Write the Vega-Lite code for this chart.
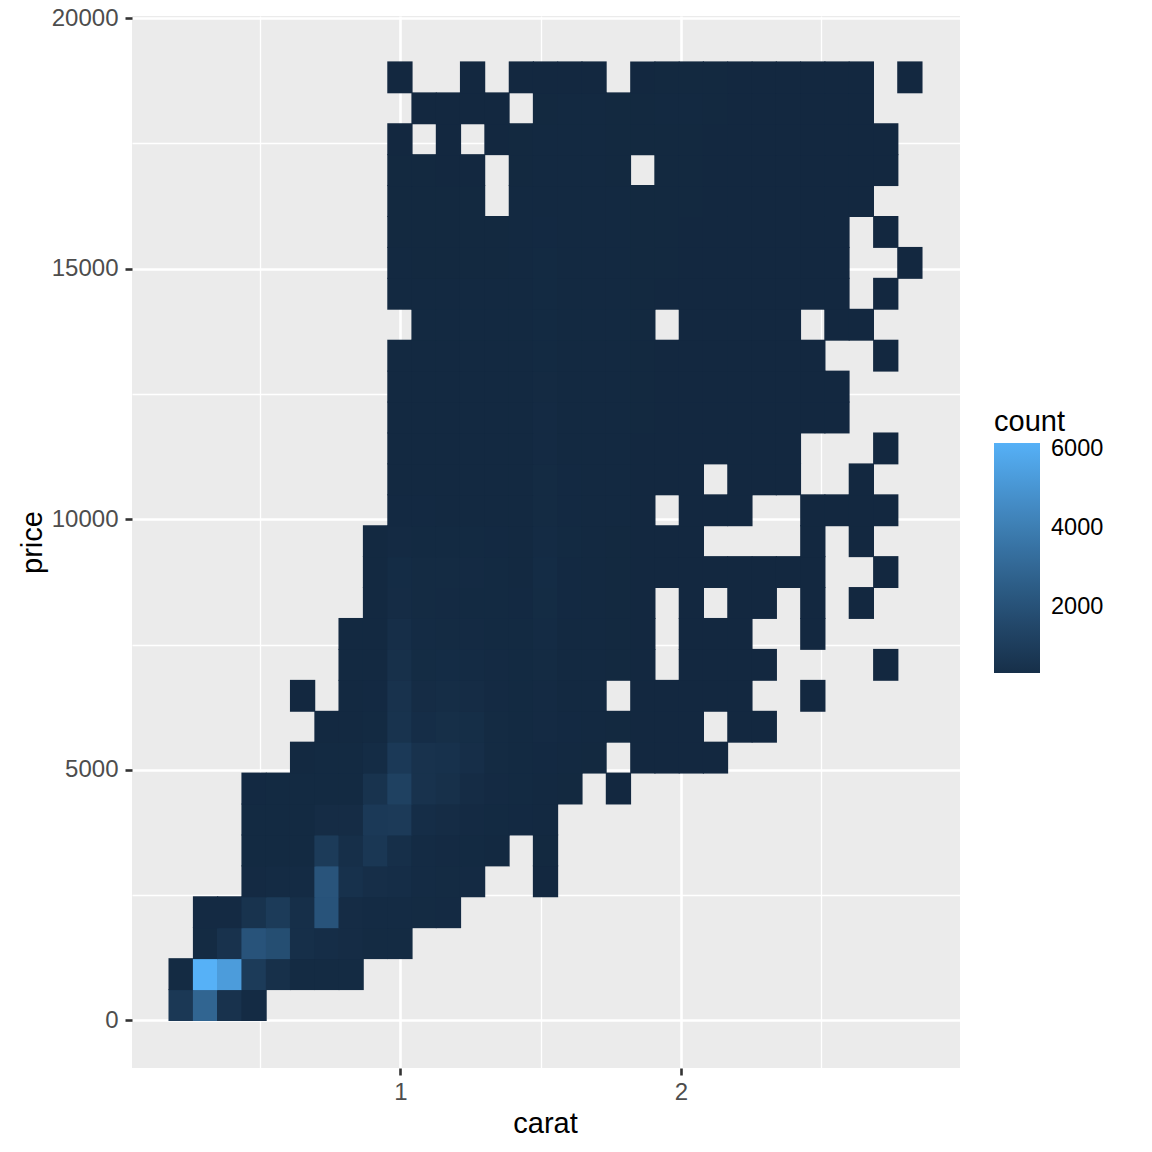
{"$schema":"https://vega.github.io/schema/vega-lite/v6.json","width":828,"height":1052,"autosize":{"type":"none"},"padding":{"left":132,"top":16,"right":192,"bottom":84},"background":"white","view":{"fill":"#EBEBEB","stroke":null},
"data":{"values":[
{"carat":0.218,"price":308,"count":800},{"carat":0.305,"price":308,"count":2900},{"carat":0.391,"price":308,"count":500},{"carat":0.478,"price":308,"count":150},
{"carat":0.218,"price":925,"count":120},{"carat":0.305,"price":925,"count":6150},{"carat":0.391,"price":925,"count":5300},{"carat":0.478,"price":925,"count":950},{"carat":0.565,"price":925,"count":400},{"carat":0.651,"price":925,"count":130},{"carat":0.738,"price":925,"count":130},{"carat":0.824,"price":925,"count":130},
{"carat":0.305,"price":1543,"count":130},{"carat":0.391,"price":1543,"count":500},{"carat":0.478,"price":1543,"count":2100},{"carat":0.565,"price":1543,"count":1850},{"carat":0.651,"price":1543,"count":350},{"carat":0.738,"price":1543,"count":250},{"carat":0.824,"price":1543,"count":200},{"carat":0.911,"price":1543,"count":120},{"carat":0.998,"price":1543,"count":120},
{"carat":0.305,"price":2160,"count":100},{"carat":0.391,"price":2160,"count":100},{"carat":0.478,"price":2160,"count":550},{"carat":0.565,"price":2160,"count":950},{"carat":0.651,"price":2160,"count":350},{"carat":0.738,"price":2160,"count":2100},{"carat":0.824,"price":2160,"count":200},{"carat":0.911,"price":2160,"count":150},{"carat":0.998,"price":2160,"count":150},{"carat":1.084,"price":2160,"count":120},{"carat":1.171,"price":2160,"count":100},
{"carat":0.478,"price":2777,"count":100},{"carat":0.565,"price":2777,"count":150},{"carat":0.651,"price":2777,"count":150},{"carat":0.738,"price":2777,"count":2150},{"carat":0.824,"price":2777,"count":450},{"carat":0.911,"price":2777,"count":300},{"carat":0.998,"price":2777,"count":250},{"carat":1.084,"price":2777,"count":150},{"carat":1.171,"price":2777,"count":120},{"carat":1.257,"price":2777,"count":100},{"carat":1.517,"price":2777,"count":5},
{"carat":0.478,"price":3393,"count":90},{"carat":0.565,"price":3393,"count":90},{"carat":0.651,"price":3393,"count":90},{"carat":0.738,"price":3393,"count":950},{"carat":0.824,"price":3393,"count":350},{"carat":0.911,"price":3393,"count":750},{"carat":0.998,"price":3393,"count":350},{"carat":1.084,"price":3393,"count":150},{"carat":1.171,"price":3393,"count":110},{"carat":1.257,"price":3393,"count":90},{"carat":1.344,"price":3393,"count":50},{"carat":1.517,"price":3393,"count":10},
{"carat":0.478,"price":4010,"count":80},{"carat":0.565,"price":4010,"count":80},{"carat":0.651,"price":4010,"count":80},{"carat":0.738,"price":4010,"count":200},{"carat":0.824,"price":4010,"count":200},{"carat":0.911,"price":4010,"count":850},{"carat":0.998,"price":4010,"count":900},{"carat":1.084,"price":4010,"count":250},{"carat":1.171,"price":4010,"count":200},{"carat":1.257,"price":4010,"count":100},{"carat":1.344,"price":4010,"count":90},{"carat":1.431,"price":4010,"count":60},{"carat":1.517,"price":4010,"count":20},
{"carat":0.478,"price":4628,"count":60},{"carat":0.565,"price":4628,"count":70},{"carat":0.651,"price":4628,"count":70},{"carat":0.738,"price":4628,"count":90},{"carat":0.824,"price":4628,"count":90},{"carat":0.911,"price":4628,"count":550},{"carat":0.998,"price":4628,"count":1250},{"carat":1.084,"price":4628,"count":500},{"carat":1.171,"price":4628,"count":400},{"carat":1.257,"price":4628,"count":200},{"carat":1.344,"price":4628,"count":100},{"carat":1.431,"price":4628,"count":70},{"carat":1.517,"price":4628,"count":40},{"carat":1.604,"price":4628,"count":10},{"carat":1.777,"price":4628,"count":1},
{"carat":0.651,"price":5245,"count":50},{"carat":0.738,"price":5245,"count":70},{"carat":0.824,"price":5245,"count":80},{"carat":0.911,"price":5245,"count":180},{"carat":0.998,"price":5245,"count":850},{"carat":1.084,"price":5245,"count":500},{"carat":1.171,"price":5245,"count":450},{"carat":1.257,"price":5245,"count":300},{"carat":1.344,"price":5245,"count":120},{"carat":1.431,"price":5245,"count":90},{"carat":1.517,"price":5245,"count":60},{"carat":1.604,"price":5245,"count":30},{"carat":1.690,"price":5245,"count":10},{"carat":1.864,"price":5245,"count":2},{"carat":1.950,"price":5245,"count":2},{"carat":2.037,"price":5245,"count":2},{"carat":2.123,"price":5245,"count":1},
{"carat":0.738,"price":5861,"count":40},{"carat":0.824,"price":5861,"count":50},{"carat":0.911,"price":5861,"count":70},{"carat":0.998,"price":5861,"count":550},{"carat":1.084,"price":5861,"count":250},{"carat":1.171,"price":5861,"count":320},{"carat":1.257,"price":5861,"count":280},{"carat":1.344,"price":5861,"count":130},{"carat":1.431,"price":5861,"count":90},{"carat":1.517,"price":5861,"count":100},{"carat":1.604,"price":5861,"count":60},{"carat":1.690,"price":5861,"count":30},{"carat":1.777,"price":5861,"count":15},{"carat":1.864,"price":5861,"count":6},{"carat":1.950,"price":5861,"count":3},{"carat":2.037,"price":5861,"count":2},{"carat":2.210,"price":5861,"count":1},{"carat":2.297,"price":5861,"count":1},
{"carat":0.651,"price":6478,"count":1},{"carat":0.824,"price":6478,"count":40},{"carat":0.911,"price":6478,"count":60},{"carat":0.998,"price":6478,"count":500},{"carat":1.084,"price":6478,"count":200},{"carat":1.171,"price":6478,"count":220},{"carat":1.257,"price":6478,"count":200},{"carat":1.344,"price":6478,"count":110},{"carat":1.431,"price":6478,"count":80},{"carat":1.517,"price":6478,"count":110},{"carat":1.604,"price":6478,"count":50},{"carat":1.690,"price":6478,"count":25},{"carat":1.864,"price":6478,"count":5},{"carat":1.950,"price":6478,"count":3},{"carat":2.037,"price":6478,"count":2},{"carat":2.123,"price":6478,"count":2},{"carat":2.210,"price":6478,"count":1},{"carat":2.470,"price":6478,"count":1},
{"carat":0.824,"price":7096,"count":30},{"carat":0.911,"price":7096,"count":50},{"carat":0.998,"price":7096,"count":400},{"carat":1.084,"price":7096,"count":170},{"carat":1.171,"price":7096,"count":180},{"carat":1.257,"price":7096,"count":160},{"carat":1.344,"price":7096,"count":100},{"carat":1.431,"price":7096,"count":70},{"carat":1.517,"price":7096,"count":130},{"carat":1.604,"price":7096,"count":45},{"carat":1.690,"price":7096,"count":30},{"carat":1.777,"price":7096,"count":15},{"carat":1.864,"price":7096,"count":4},{"carat":2.037,"price":7096,"count":2},{"carat":2.123,"price":7096,"count":2},{"carat":2.210,"price":7096,"count":1},{"carat":2.297,"price":7096,"count":1},{"carat":2.730,"price":7096,"count":1},
{"carat":0.824,"price":7713,"count":25},{"carat":0.911,"price":7713,"count":45},{"carat":0.998,"price":7713,"count":300},{"carat":1.084,"price":7713,"count":150},{"carat":1.171,"price":7713,"count":130},{"carat":1.257,"price":7713,"count":110},{"carat":1.344,"price":7713,"count":90},{"carat":1.431,"price":7713,"count":70},{"carat":1.517,"price":7713,"count":150},{"carat":1.604,"price":7713,"count":50},{"carat":1.690,"price":7713,"count":25},{"carat":1.777,"price":7713,"count":12},{"carat":1.864,"price":7713,"count":4},{"carat":2.037,"price":7713,"count":3},{"carat":2.123,"price":7713,"count":2},{"carat":2.210,"price":7713,"count":1},{"carat":2.470,"price":7713,"count":1},
{"carat":0.911,"price":8330,"count":40},{"carat":0.998,"price":8330,"count":200},{"carat":1.084,"price":8330,"count":130},{"carat":1.171,"price":8330,"count":100},{"carat":1.257,"price":8330,"count":90},{"carat":1.344,"price":8330,"count":70},{"carat":1.431,"price":8330,"count":60},{"carat":1.517,"price":8330,"count":170},{"carat":1.604,"price":8330,"count":60},{"carat":1.690,"price":8330,"count":25},{"carat":1.777,"price":8330,"count":10},{"carat":1.864,"price":8330,"count":4},{"carat":2.037,"price":8330,"count":2},{"carat":2.210,"price":8330,"count":1},{"carat":2.297,"price":8330,"count":1},{"carat":2.470,"price":8330,"count":1},{"carat":2.643,"price":8330,"count":1},
{"carat":0.911,"price":8947,"count":35},{"carat":0.998,"price":8947,"count":190},{"carat":1.084,"price":8947,"count":130},{"carat":1.171,"price":8947,"count":120},{"carat":1.257,"price":8947,"count":110},{"carat":1.344,"price":8947,"count":75},{"carat":1.431,"price":8947,"count":55},{"carat":1.517,"price":8947,"count":180},{"carat":1.604,"price":8947,"count":60},{"carat":1.690,"price":8947,"count":30},{"carat":1.777,"price":8947,"count":15},{"carat":1.864,"price":8947,"count":5},{"carat":1.950,"price":8947,"count":3},{"carat":2.037,"price":8947,"count":3},{"carat":2.123,"price":8947,"count":2},{"carat":2.210,"price":8947,"count":1},{"carat":2.297,"price":8947,"count":1},{"carat":2.383,"price":8947,"count":1},{"carat":2.470,"price":8947,"count":1},{"carat":2.730,"price":8947,"count":1},
{"carat":0.911,"price":9563,"count":30},{"carat":0.998,"price":9563,"count":100},{"carat":1.084,"price":9563,"count":90},{"carat":1.171,"price":9563,"count":80},{"carat":1.257,"price":9563,"count":70},{"carat":1.344,"price":9563,"count":60},{"carat":1.431,"price":9563,"count":50},{"carat":1.517,"price":9563,"count":150},{"carat":1.604,"price":9563,"count":70},{"carat":1.690,"price":9563,"count":35},{"carat":1.777,"price":9563,"count":15},{"carat":1.864,"price":9563,"count":6},{"carat":1.950,"price":9563,"count":3},{"carat":2.037,"price":9563,"count":2},{"carat":2.470,"price":9563,"count":1},{"carat":2.643,"price":9563,"count":1},
{"carat":0.998,"price":10180,"count":60},{"carat":1.084,"price":10180,"count":60},{"carat":1.171,"price":10180,"count":50},{"carat":1.257,"price":10180,"count":50},{"carat":1.344,"price":10180,"count":50},{"carat":1.431,"price":10180,"count":50},{"carat":1.517,"price":10180,"count":130},{"carat":1.604,"price":10180,"count":60},{"carat":1.690,"price":10180,"count":30},{"carat":1.777,"price":10180,"count":20},{"carat":1.864,"price":10180,"count":6},{"carat":2.037,"price":10180,"count":2},{"carat":2.123,"price":10180,"count":2},{"carat":2.210,"price":10180,"count":1},{"carat":2.470,"price":10180,"count":1},{"carat":2.556,"price":10180,"count":1},{"carat":2.643,"price":10180,"count":1},{"carat":2.730,"price":10180,"count":1},
{"carat":0.998,"price":10797,"count":50},{"carat":1.084,"price":10797,"count":50},{"carat":1.171,"price":10797,"count":45},{"carat":1.257,"price":10797,"count":45},{"carat":1.344,"price":10797,"count":40},{"carat":1.431,"price":10797,"count":45},{"carat":1.517,"price":10797,"count":120},{"carat":1.604,"price":10797,"count":60},{"carat":1.690,"price":10797,"count":35},{"carat":1.777,"price":10797,"count":20},{"carat":1.864,"price":10797,"count":8},{"carat":1.950,"price":10797,"count":3},{"carat":2.037,"price":10797,"count":2},{"carat":2.210,"price":10797,"count":1},{"carat":2.297,"price":10797,"count":1},{"carat":2.383,"price":10797,"count":1},{"carat":2.643,"price":10797,"count":1},
{"carat":0.998,"price":11414,"count":45},{"carat":1.084,"price":11414,"count":40},{"carat":1.171,"price":11414,"count":35},{"carat":1.257,"price":11414,"count":35},{"carat":1.344,"price":11414,"count":35},{"carat":1.431,"price":11414,"count":40},{"carat":1.517,"price":11414,"count":100},{"carat":1.604,"price":11414,"count":55},{"carat":1.690,"price":11414,"count":35},{"carat":1.777,"price":11414,"count":25},{"carat":1.864,"price":11414,"count":8},{"carat":1.950,"price":11414,"count":4},{"carat":2.037,"price":11414,"count":3},{"carat":2.123,"price":11414,"count":2},{"carat":2.210,"price":11414,"count":1},{"carat":2.297,"price":11414,"count":1},{"carat":2.383,"price":11414,"count":1},{"carat":2.730,"price":11414,"count":1},
{"carat":0.998,"price":12031,"count":40},{"carat":1.084,"price":12031,"count":35},{"carat":1.171,"price":12031,"count":30},{"carat":1.257,"price":12031,"count":30},{"carat":1.344,"price":12031,"count":30},{"carat":1.431,"price":12031,"count":35},{"carat":1.517,"price":12031,"count":100},{"carat":1.604,"price":12031,"count":55},{"carat":1.690,"price":12031,"count":35},{"carat":1.777,"price":12031,"count":25},{"carat":1.864,"price":12031,"count":10},{"carat":1.950,"price":12031,"count":6},{"carat":2.037,"price":12031,"count":4},{"carat":2.123,"price":12031,"count":2},{"carat":2.210,"price":12031,"count":2},{"carat":2.297,"price":12031,"count":2},{"carat":2.383,"price":12031,"count":1},{"carat":2.470,"price":12031,"count":1},{"carat":2.556,"price":12031,"count":1},
{"carat":0.998,"price":12648,"count":35},{"carat":1.084,"price":12648,"count":30},{"carat":1.171,"price":12648,"count":30},{"carat":1.257,"price":12648,"count":25},{"carat":1.344,"price":12648,"count":25},{"carat":1.431,"price":12648,"count":35},{"carat":1.517,"price":12648,"count":95},{"carat":1.604,"price":12648,"count":55},{"carat":1.690,"price":12648,"count":35},{"carat":1.777,"price":12648,"count":25},{"carat":1.864,"price":12648,"count":12},{"carat":1.950,"price":12648,"count":6},{"carat":2.037,"price":12648,"count":5},{"carat":2.123,"price":12648,"count":3},{"carat":2.210,"price":12648,"count":2},{"carat":2.297,"price":12648,"count":2},{"carat":2.383,"price":12648,"count":1},{"carat":2.470,"price":12648,"count":1},{"carat":2.556,"price":12648,"count":1},
{"carat":0.998,"price":13265,"count":30},{"carat":1.084,"price":13265,"count":25},{"carat":1.171,"price":13265,"count":25},{"carat":1.257,"price":13265,"count":25},{"carat":1.344,"price":13265,"count":25},{"carat":1.431,"price":13265,"count":30},{"carat":1.517,"price":13265,"count":90},{"carat":1.604,"price":13265,"count":50},{"carat":1.690,"price":13265,"count":30},{"carat":1.777,"price":13265,"count":25},{"carat":1.864,"price":13265,"count":12},{"carat":1.950,"price":13265,"count":6},{"carat":2.037,"price":13265,"count":5},{"carat":2.123,"price":13265,"count":3},{"carat":2.210,"price":13265,"count":2},{"carat":2.297,"price":13265,"count":2},{"carat":2.383,"price":13265,"count":1},{"carat":2.470,"price":13265,"count":1},{"carat":2.730,"price":13265,"count":1},
{"carat":1.084,"price":13882,"count":25},{"carat":1.171,"price":13882,"count":20},{"carat":1.257,"price":13882,"count":20},{"carat":1.344,"price":13882,"count":20},{"carat":1.431,"price":13882,"count":30},{"carat":1.517,"price":13882,"count":80},{"carat":1.604,"price":13882,"count":50},{"carat":1.690,"price":13882,"count":30},{"carat":1.777,"price":13882,"count":20},{"carat":1.864,"price":13882,"count":10},{"carat":2.037,"price":13882,"count":6},{"carat":2.123,"price":13882,"count":4},{"carat":2.210,"price":13882,"count":3},{"carat":2.297,"price":13882,"count":2},{"carat":2.383,"price":13882,"count":1},{"carat":2.556,"price":13882,"count":1},{"carat":2.643,"price":13882,"count":1},
{"carat":0.998,"price":14500,"count":20},{"carat":1.084,"price":14500,"count":20},{"carat":1.171,"price":14500,"count":20},{"carat":1.257,"price":14500,"count":20},{"carat":1.344,"price":14500,"count":20},{"carat":1.431,"price":14500,"count":25},{"carat":1.517,"price":14500,"count":75},{"carat":1.604,"price":14500,"count":50},{"carat":1.690,"price":14500,"count":30},{"carat":1.777,"price":14500,"count":20},{"carat":1.864,"price":14500,"count":12},{"carat":1.950,"price":14500,"count":8},{"carat":2.037,"price":14500,"count":6},{"carat":2.123,"price":14500,"count":3},{"carat":2.210,"price":14500,"count":2},{"carat":2.297,"price":14500,"count":2},{"carat":2.383,"price":14500,"count":1},{"carat":2.470,"price":14500,"count":1},{"carat":2.556,"price":14500,"count":1},{"carat":2.730,"price":14500,"count":1},
{"carat":0.998,"price":15116,"count":20},{"carat":1.084,"price":15116,"count":18},{"carat":1.171,"price":15116,"count":18},{"carat":1.257,"price":15116,"count":18},{"carat":1.344,"price":15116,"count":18},{"carat":1.431,"price":15116,"count":25},{"carat":1.517,"price":15116,"count":70},{"carat":1.604,"price":15116,"count":45},{"carat":1.690,"price":15116,"count":30},{"carat":1.777,"price":15116,"count":20},{"carat":1.864,"price":15116,"count":12},{"carat":1.950,"price":15116,"count":10},{"carat":2.037,"price":15116,"count":6},{"carat":2.123,"price":15116,"count":3},{"carat":2.210,"price":15116,"count":2},{"carat":2.297,"price":15116,"count":2},{"carat":2.383,"price":15116,"count":1},{"carat":2.470,"price":15116,"count":1},{"carat":2.556,"price":15116,"count":1},{"carat":2.816,"price":15116,"count":1},
{"carat":0.998,"price":15733,"count":15},{"carat":1.084,"price":15733,"count":15},{"carat":1.171,"price":15733,"count":15},{"carat":1.257,"price":15733,"count":15},{"carat":1.344,"price":15733,"count":15},{"carat":1.431,"price":15733,"count":22},{"carat":1.517,"price":15733,"count":60},{"carat":1.604,"price":15733,"count":40},{"carat":1.690,"price":15733,"count":25},{"carat":1.777,"price":15733,"count":20},{"carat":1.864,"price":15733,"count":12},{"carat":1.950,"price":15733,"count":12},{"carat":2.037,"price":15733,"count":6},{"carat":2.123,"price":15733,"count":3},{"carat":2.210,"price":15733,"count":2},{"carat":2.297,"price":15733,"count":2},{"carat":2.383,"price":15733,"count":1},{"carat":2.470,"price":15733,"count":1},{"carat":2.556,"price":15733,"count":1},{"carat":2.730,"price":15733,"count":1},
{"carat":0.998,"price":16350,"count":12},{"carat":1.084,"price":16350,"count":12},{"carat":1.171,"price":16350,"count":12},{"carat":1.257,"price":16350,"count":12},{"carat":1.431,"price":16350,"count":20},{"carat":1.517,"price":16350,"count":40},{"carat":1.604,"price":16350,"count":35},{"carat":1.690,"price":16350,"count":25},{"carat":1.777,"price":16350,"count":20},{"carat":1.864,"price":16350,"count":12},{"carat":1.950,"price":16350,"count":12},{"carat":2.037,"price":16350,"count":10},{"carat":2.123,"price":16350,"count":4},{"carat":2.210,"price":16350,"count":3},{"carat":2.297,"price":16350,"count":2},{"carat":2.383,"price":16350,"count":2},{"carat":2.470,"price":16350,"count":1},{"carat":2.556,"price":16350,"count":1},{"carat":2.643,"price":16350,"count":1},
{"carat":0.998,"price":16967,"count":10},{"carat":1.084,"price":16967,"count":10},{"carat":1.171,"price":16967,"count":8},{"carat":1.257,"price":16967,"count":8},{"carat":1.431,"price":16967,"count":18},{"carat":1.517,"price":16967,"count":30},{"carat":1.604,"price":16967,"count":30},{"carat":1.690,"price":16967,"count":25},{"carat":1.777,"price":16967,"count":15},{"carat":1.950,"price":16967,"count":15},{"carat":2.037,"price":16967,"count":15},{"carat":2.123,"price":16967,"count":8},{"carat":2.210,"price":16967,"count":4},{"carat":2.297,"price":16967,"count":3},{"carat":2.383,"price":16967,"count":2},{"carat":2.470,"price":16967,"count":1},{"carat":2.556,"price":16967,"count":1},{"carat":2.643,"price":16967,"count":1},{"carat":2.730,"price":16967,"count":1},
{"carat":0.998,"price":17584,"count":6},{"carat":1.171,"price":17584,"count":4},{"carat":1.344,"price":17584,"count":6},{"carat":1.431,"price":17584,"count":15},{"carat":1.517,"price":17584,"count":25},{"carat":1.604,"price":17584,"count":25},{"carat":1.690,"price":17584,"count":20},{"carat":1.777,"price":17584,"count":15},{"carat":1.864,"price":17584,"count":15},{"carat":1.950,"price":17584,"count":15},{"carat":2.037,"price":17584,"count":12},{"carat":2.123,"price":17584,"count":6},{"carat":2.210,"price":17584,"count":3},{"carat":2.297,"price":17584,"count":2},{"carat":2.383,"price":17584,"count":2},{"carat":2.470,"price":17584,"count":1},{"carat":2.556,"price":17584,"count":1},{"carat":2.643,"price":17584,"count":1},{"carat":2.730,"price":17584,"count":1},
{"carat":1.084,"price":18200,"count":4},{"carat":1.171,"price":18200,"count":4},{"carat":1.257,"price":18200,"count":4},{"carat":1.344,"price":18200,"count":3},{"carat":1.517,"price":18200,"count":12},{"carat":1.604,"price":18200,"count":20},{"carat":1.690,"price":18200,"count":20},{"carat":1.777,"price":18200,"count":15},{"carat":1.864,"price":18200,"count":15},{"carat":1.950,"price":18200,"count":20},{"carat":2.037,"price":18200,"count":20},{"carat":2.123,"price":18200,"count":10},{"carat":2.210,"price":18200,"count":6},{"carat":2.297,"price":18200,"count":3},{"carat":2.383,"price":18200,"count":2},{"carat":2.470,"price":18200,"count":2},{"carat":2.556,"price":18200,"count":1},{"carat":2.643,"price":18200,"count":1},
{"carat":0.998,"price":18818,"count":1},{"carat":1.257,"price":18818,"count":1},{"carat":1.431,"price":18818,"count":3},{"carat":1.517,"price":18818,"count":6},{"carat":1.604,"price":18818,"count":6},{"carat":1.690,"price":18818,"count":4},{"carat":1.864,"price":18818,"count":8},{"carat":1.950,"price":18818,"count":15},{"carat":2.037,"price":18818,"count":15},{"carat":2.123,"price":18818,"count":10},{"carat":2.210,"price":18818,"count":6},{"carat":2.297,"price":18818,"count":3},{"carat":2.383,"price":18818,"count":2},{"carat":2.470,"price":18818,"count":2},{"carat":2.556,"price":18818,"count":1},{"carat":2.643,"price":18818,"count":1},{"carat":2.816,"price":18818,"count":1}
]},
"layer":[
{"mark":{"type":"rect","width":25.3,"height":31.9,"opacity":0},
"encoding":{
"x":{"field":"carat","type":"quantitative","scale":{"domain":[0.0428,2.9947],"nice":false,"zero":false},"axis":{"orient":"bottom","values":[0.5,1.5,2.5],"grid":true,"gridColor":"#FFFFFF","gridWidth":1.3,"labels":false,"ticks":false,"domain":false,"title":null}},
"y":{"field":"price","type":"quantitative","scale":{"domain":[-948,20042],"nice":false,"zero":false},"axis":{"orient":"left","values":[2500,7500,12500,17500],"grid":true,"gridColor":"#FFFFFF","gridWidth":1.3,"labels":false,"ticks":false,"domain":false,"title":null}}
}},
{"mark":{"type":"rect","width":25.3,"height":31.9},
"encoding":{
"x":{"field":"carat","type":"quantitative","axis":{"orient":"bottom","values":[1,2],"format":"d","grid":true,"gridColor":"#FFFFFF","gridWidth":2.6,"domain":false,"tickColor":"#333333","tickWidth":2.6,"tickSize":7,"labelColor":"#4D4D4D","labelFont":"Liberation Sans","labelFontSize":24,"labelPadding":5,"title":"carat","titleX":413,"titleFont":"Liberation Sans","titleFontSize":29,"titleFontWeight":"normal","titleColor":"#000000","titlePadding":5}},
"y":{"field":"price","type":"quantitative","axis":{"orient":"left","values":[0,5000,10000,15000,20000],"format":"d","grid":true,"gridColor":"#FFFFFF","gridWidth":2.6,"domain":false,"tickColor":"#333333","tickWidth":2.6,"tickSize":7,"labelColor":"#4D4D4D","labelFont":"Liberation Sans","labelFontSize":24,"labelPadding":7,"title":"price","titleFont":"Liberation Sans","titleFontSize":29,"titleFontWeight":"normal","titleColor":"#000000","titlePadding":4}},
"color":{"field":"count","type":"quantitative","scale":{"domain":[345,6151],"range":["#162F49","#56B1F7"],"interpolate":"lab","clamp":false,"zero":false,"nice":false},"legend":{"orient":"none","legendX":862,"legendY":392,"direction":"vertical","values":[2000,4000,6000],"format":"d","title":"count","titleFont":"Liberation Sans","titleFontSize":29,"titleFontWeight":"normal","titleColor":"#000000","titlePadding":6,"gradientLength":230,"gradientThickness":46,"gradientStrokeWidth":0,"labelFont":"Liberation Sans","labelFontSize":23.5,"labelColor":"#000000","labelOffset":11,"labelOverlap":false}}
}}
],
"resolve":{"axis":{"x":"independent","y":"independent"}}
}
